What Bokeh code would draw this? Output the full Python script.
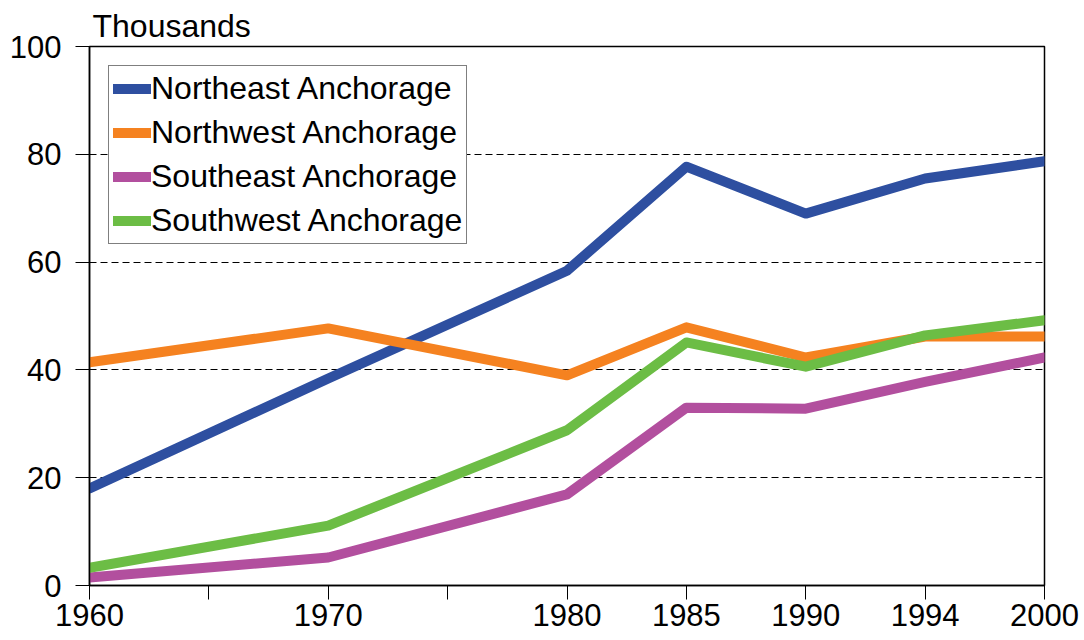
from bokeh.plotting import figure
from bokeh.embed import file_html
from bokeh.resources import INLINE
from bokeh.models import FixedTicker, Legend, LegendItem, Range1d

# x slots (equal spacing on the chart's axis); blank slots are unlabeled ticks
slots = ["1960", "1965", "1970", "1975", "1980", "1985", "1990", "1994", "2000"]
slot_labels = ["1960", "", "1970", "", "1980", "1985", "1990", "1994", "2000"]
years = ["1960", "1970", "1980", "1985", "1990", "1994", "2000"]

northeast = [18.0, 38.4, 58.4, 77.7, 69.0, 75.5, 78.7]
northwest = [41.4, 47.7, 39.0, 47.9, 42.3, 46.2, 46.2]
southeast = [1.5, 5.2, 16.9, 33.0, 32.8, 37.8, 42.3]
southwest = [3.3, 11.1, 28.8, 45.1, 40.6, 46.4, 49.2]

series_names = ["Northeast Anchorage", "Northwest Anchorage",
                "Southeast Anchorage", "Southwest Anchorage"]
series_values = [northeast, northwest, southeast, southwest]
colors = ["#2E4FA0", "#F58220", "#B24F9E", "#6CBD45"]

y_ticks = [0, 20, 40, 60, 80, 100]

FONT = "Liberation Sans"

xs = [slots.index(y) for y in years]

p = figure(width=1084, height=640, output_backend="svg", toolbar_location=None,
           x_range=Range1d(0, len(slots) - 1), y_range=Range1d(0, 100),
           min_border_left=89, min_border_right=40, min_border_top=46,
           min_border_bottom=55)

p.title.text = "Thousands"
p.title.text_font = FONT
p.title.text_font_size = "32px"
p.title.text_font_style = "normal"
p.title.text_color = "black"
p.title.align = "left"
p.title.offset = 3
p.title.standoff = 6

p.outline_line_color = "black"
p.outline_line_width = 1.5
p.outline_line_alpha = 1

renderers = []
for name, vals, c in zip(series_names, series_values, colors):
    r = p.line(xs, vals, line_color=c, line_width=10, line_cap="round", line_join="round")
    renderers.append((name, r))

# axes
p.xaxis.ticker = FixedTicker(ticks=list(range(len(slots))))
p.xaxis.major_label_overrides = {i: lab for i, lab in enumerate(slot_labels)}
p.xaxis.major_tick_out = 14
p.xaxis.major_tick_in = 0
p.xaxis.minor_tick_line_color = None
p.xaxis.major_tick_line_color = "black"
p.xaxis.major_label_text_font = FONT
p.xaxis.major_label_text_font_size = "31px"
p.xaxis.major_label_text_color = "black"
p.xaxis.major_label_standoff = 4
p.xaxis.axis_line_color = "black"
p.xaxis.axis_line_width = 1.5

p.yaxis.ticker = FixedTicker(ticks=y_ticks)
p.yaxis.major_tick_out = 14
p.yaxis.major_tick_in = 6
p.yaxis.minor_tick_line_color = None
p.yaxis.major_tick_line_color = "black"
p.yaxis.major_label_text_font = FONT
p.yaxis.major_label_text_font_size = "31px"
p.yaxis.major_label_text_color = "black"
p.yaxis.major_label_standoff = 14
p.yaxis.axis_line_color = "black"
p.yaxis.axis_line_width = 1.5

p.xgrid.grid_line_color = None
p.ygrid.ticker = FixedTicker(ticks=[20, 40, 60, 80])
p.ygrid.grid_line_color = "black"
p.ygrid.grid_line_dash = "7 4"
p.ygrid.grid_line_width = 1

legend = Legend(items=[LegendItem(label=n, renderers=[r]) for n, r in renderers],
                location="top_left")
legend.label_text_font = FONT
legend.label_text_font_size = "32px"
legend.label_text_color = "black"
legend.label_standoff = 0
legend.label_height = 37
legend.glyph_width = 38
legend.glyph_height = 37
legend.spacing = 7
legend.padding = 4
legend.margin = 19
legend.border_line_color = "black"
legend.border_line_width = 1.5
legend.background_fill_alpha = 1
p.add_layout(legend)

open("out.html", "w").write(file_html(p, INLINE))
